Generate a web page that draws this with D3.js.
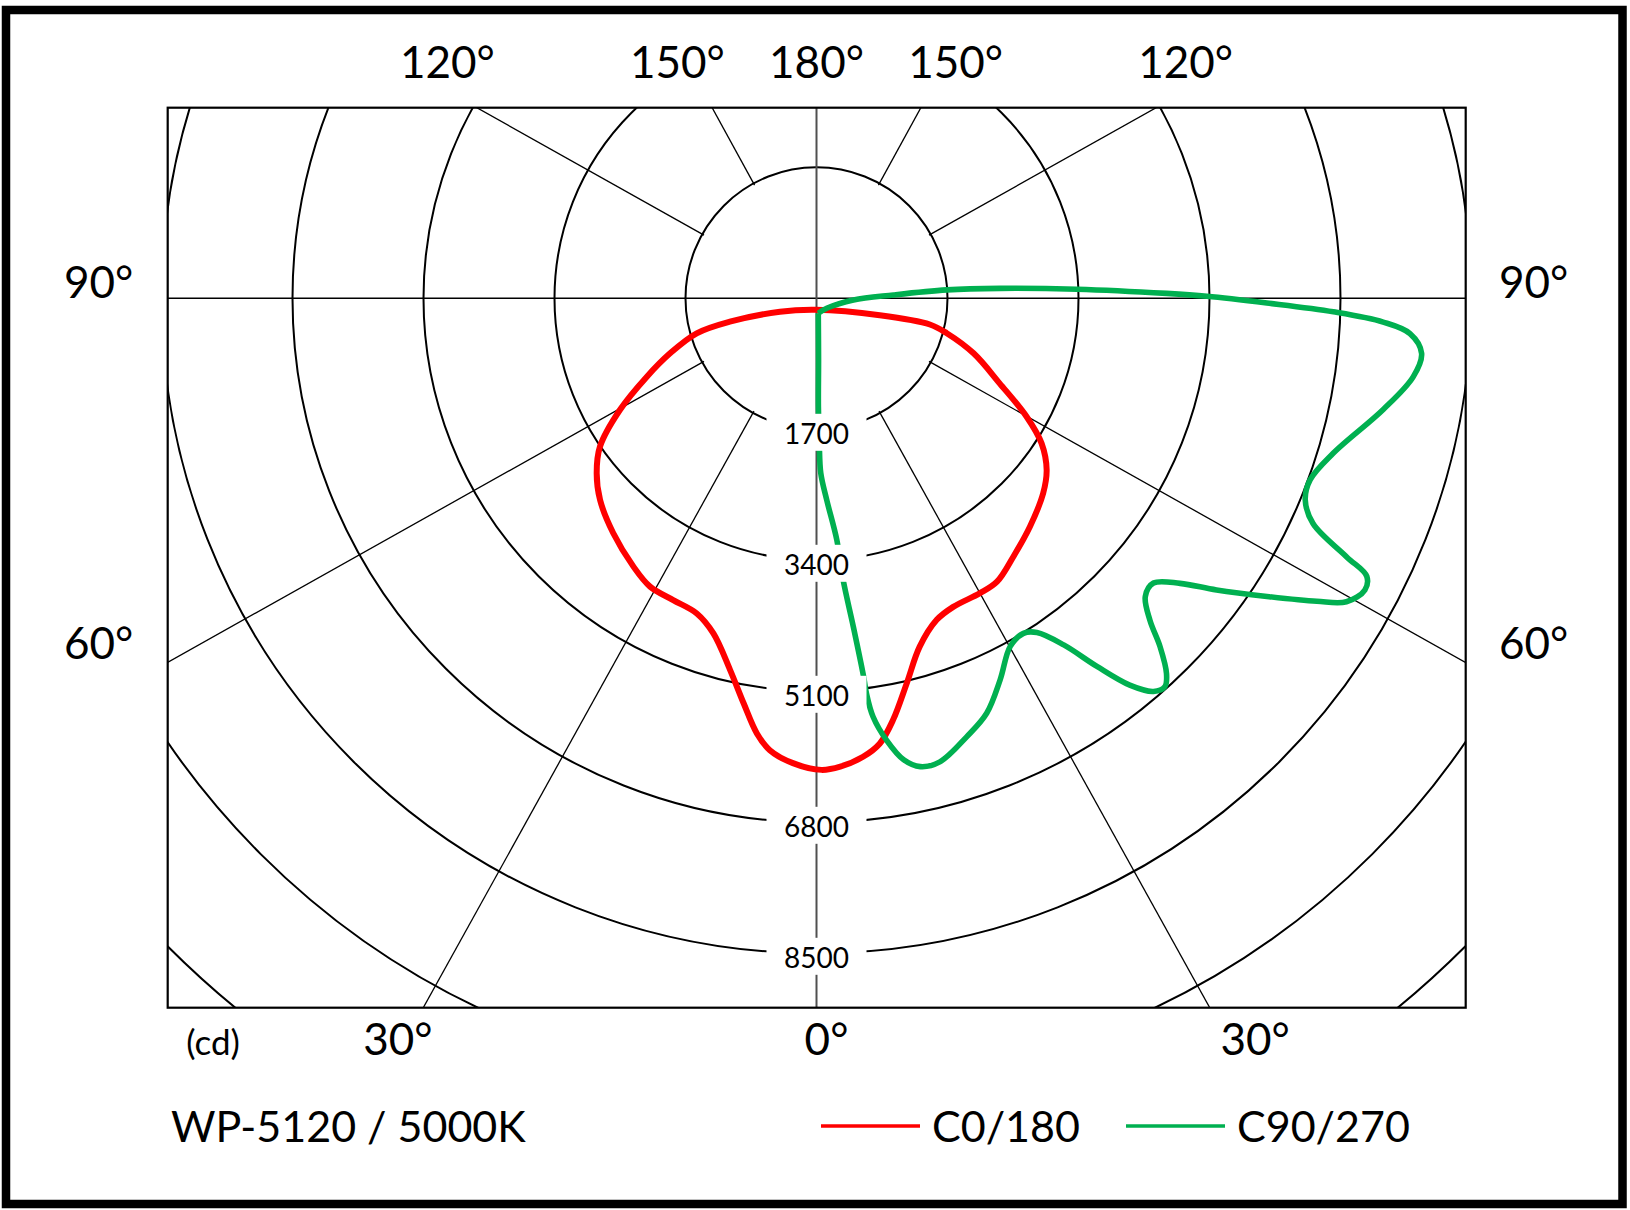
<!DOCTYPE html>
<html>
<head>
<meta charset="utf-8">
<script src="https://cdn.jsdelivr.net/npm/d3@7"></script>
<style>
  html, body { margin: 0; padding: 0; background: #fff; }
  svg { display: block; }
  text { font-family: Lato, "Open Sans", sans-serif; fill: #000; }
</style>
</head>
<body>
<div id="chart"></div>
<script>
// rings (cd)
const ringValues = [1700, 3400, 5100, 6800, 8500, 10200, 11900];
const ringLabels = ["1700", "3400", "5100", "6800", "8500"];

// gamma angles in degrees from nadir, positive = right half
// (the grid rays are drawn where the original draws them, a little off the nominal 30/60)
const rayAngles = [-151.3, -119.3, -60.7, -29, 29, 60.7, 119.3, 151.3];
const topTicks = [-120, -150, 180, 150, 120];
const sideTicks = [-90, -60, 90, 60];
const bottomTicks = [-30, 0, 30];

// C0/180 (right = C0, left = C180)
const redGamma = [-2, 75, 77, 75, 70.7, 65.1, 60.6, 57.2, 53.3, 49.3, 43.1, 37.3, 32.5, 29, 23.9,
  20.5, 16.5, 13.2, 10.3, 8.1, 5.8, 2.9, 0.6, -2.9, -5.9, -7.8, -10.2, -13.1, -17.1, -20.8,
  -25.4, -30, -34.3, -40.9, -47, -51.5, -55.6, -60.4, -65.2, -69.4, -73.7, -74.9, -69.8];
const redCd = [150, 850, 1510, 1750, 2160, 2620, 3130, 3475, 3725, 3880, 4055, 4215, 4360, 4375, 4380,
  4455, 4715, 5130, 5560, 5835, 5980, 6085, 6120, 6040, 5895, 5700, 5340, 4950, 4550, 4375,
  4335, 4320, 4215, 4030, 3840, 3645, 3405, 2935, 2425, 2030, 1620, 1165, 505];

// C90/270
const greenGamma = [6.8, 1.9, 1.0, 1.1, 1.4, 2.9, 4.8, 5.4, 6.4, 7.1, 7.2, 7.7, 9.0, 10.7, 12.5,
  14.9, 18.9, 22.3, 25.7, 29.1, 31.7, 33.4, 35.5, 37.3, 39.0, 40.6, 41.9, 43.0, 44.6, 46.0,
  47.8, 49.8, 51.9, 53.9, 56.5, 58.8, 60.2, 62.0, 63.2, 64.0, 65.6, 67.6, 69.8, 73.3, 78.9,
  82.5, 84.8, 86.6, 87.6, 88.5, 89.4, 90.3, 90.8, 92.0, 93.1, 93.7, 92.5, 87.4, 45.6, 6.8];
const greenCd = [195, 800, 1405, 1880, 2270, 2620, 3145, 3670, 4290, 4950, 5165, 5480, 5805, 6095, 6225,
  6225, 6015, 5820, 5495, 5170, 5110, 5195, 5525, 6005, 6460, 6720, 6770, 6660, 6350, 6015,
  5760, 5725, 5995, 6425, 7010, 7590, 7925, 8060, 8000, 7655, 7075, 6860, 6825, 7000, 7495,
  7810, 7885, 7715, 7360, 6710, 5845, 5065, 4545, 3380, 2385, 1695, 1000, 480, 185, 195];

const titleText = "WP-5120 / 5000K";
const seriesNames = ["C0/180", "C90/270"];
const seriesColors = ["#ff0000", "#00b050"];

const width = 1630, height = 1210;
const plot = { x0: 167.7, y0: 107.7, x1: 1465.7, y1: 1007.7 };
const cx = 816.5, cy = 298.3;

const r = d3.scaleLinear().domain([0, 1700]).range([0, 131]);
const rad = (g) => ((180 - g) * Math.PI) / 180;

const svg = d3
  .select("#chart")
  .append("svg")
  .attr("width", width)
  .attr("height", height);

// outer frame
svg
  .append("rect")
  .attr("x", 6)
  .attr("y", 10)
  .attr("width", 1616.5)
  .attr("height", 1194)
  .attr("fill", "#fff")
  .attr("stroke", "#000")
  .attr("stroke-width", 8.5);

svg
  .append("clipPath")
  .attr("id", "plotclip")
  .append("rect")
  .attr("x", plot.x0)
  .attr("y", plot.y0)
  .attr("width", plot.x1 - plot.x0)
  .attr("height", plot.y1 - plot.y0);

const grid = svg.append("g").attr("clip-path", "url(#plotclip)");
const g = grid.append("g").attr("transform", `translate(${cx}, ${cy})`);

g.selectAll("circle.ring")
  .data(ringValues)
  .join("circle")
  .attr("class", "ring")
  .attr("r", (d) => r(d))
  .attr("fill", "none")
  .attr("stroke", "#000")
  .attr("stroke-width", 2);

// radial lines start at the first ring
g.selectAll("line.ray")
  .data(rayAngles)
  .join("line")
  .attr("class", "ray")
  .attr("x1", (d) => d3.pointRadial(rad(d), r(ringValues[0]) - 2)[0])
  .attr("y1", (d) => d3.pointRadial(rad(d), r(ringValues[0]) - 2)[1])
  .attr("x2", (d) => d3.pointRadial(rad(d), r(20000))[0])
  .attr("y2", (d) => d3.pointRadial(rad(d), r(20000))[1])
  .attr("stroke", "#000")
  .attr("stroke-width", 1.3);

// 90° line and 0/180° line through the centre
grid
  .append("line")
  .attr("x1", plot.x0)
  .attr("x2", plot.x1)
  .attr("y1", cy)
  .attr("y2", cy)
  .attr("stroke", "#000")
  .attr("stroke-width", 1.6);
grid
  .append("line")
  .attr("x1", cx)
  .attr("x2", cx)
  .attr("y1", plot.y0)
  .attr("y2", plot.y1)
  .attr("stroke", "#505050")
  .attr("stroke-width", 2);

svg
  .append("rect")
  .attr("x", plot.x0)
  .attr("y", plot.y0)
  .attr("width", plot.x1 - plot.x0)
  .attr("height", plot.y1 - plot.y0)
  .attr("fill", "none")
  .attr("stroke", "#000")
  .attr("stroke-width", 2.2);

// curves
const line = d3.lineRadial().angle((d) => rad(d[0])).radius((d) => r(d[1]));
const curves = svg.append("g").attr("transform", `translate(${cx}, ${cy})`);

curves
  .append("path")
  .attr("d", line.curve(d3.curveCatmullRomClosed.alpha(0.5))(redGamma.map((a, i) => [a, redCd[i]])))
  .attr("fill", "none")
  .attr("stroke", seriesColors[0])
  .attr("stroke-width", 6)
  .attr("stroke-linejoin", "round");

curves
  .append("path")
  .attr("d", line.curve(d3.curveCatmullRom.alpha(0.5))(greenGamma.map((a, i) => [a, greenCd[i]])))
  .attr("fill", "none")
  .attr("stroke", seriesColors[1])
  .attr("stroke-width", 5.6)
  .attr("stroke-linejoin", "round");

// ring value labels sit on top of everything
const lab = curves
  .selectAll("g.rlabel")
  .data(ringLabels)
  .join("g")
  .attr("class", "rlabel")
  .attr("transform", (d) => `translate(0, ${r(+d) + 3})`);
lab
  .append("rect")
  .attr("x", -50)
  .attr("y", -18.5)
  .attr("width", 100)
  .attr("height", 37)
  .attr("fill", "#fff");
lab
  .append("text")
  .attr("text-anchor", "middle")
  .attr("dominant-baseline", "central")
  .attr("y", 1)
  .style("font-size", "28px")
  .text((d) => d);

// where a ray leaves the plot box
function exitPoint(a) {
  const [sx, sy] = d3.pointRadial(rad(a), 1);
  const ts = [];
  if (sx > 1e-9) ts.push((plot.x1 - cx) / sx);
  if (sx < -1e-9) ts.push((plot.x0 - cx) / sx);
  if (sy > 1e-9) ts.push((plot.y1 - cy) / sy);
  if (sy < -1e-9) ts.push((plot.y0 - cy) / sy);
  const t = d3.min(ts);
  return [cx + sx * t, cy + sy * t];
}
const deg = (a) => Math.abs(a) + "°";
const angleFont = "44px";

svg
  .selectAll("text.top")
  .data(topTicks)
  .join("text")
  .attr("class", "top")
  .attr("text-anchor", "middle")
  .attr("x", (d) => exitPoint(d)[0] + Math.sign(d === 180 ? 0 : d) * (Math.abs(d) === 120 ? 39 : 29))
  .attr("y", 78)
  .style("font-size", angleFont)
  .text(deg);

svg
  .selectAll("text.side")
  .data(sideTicks)
  .join("text")
  .attr("class", "side")
  .attr("text-anchor", "middle")
  .attr("x", (d) => (d < 0 ? plot.x0 - 69 : plot.x1 + 68))
  .attr("y", (d) => exitPoint(d)[1] + (Math.abs(d) === 90 ? 0 : -14))
  .style("font-size", angleFont)
  .text(deg);

const bottomNudge = { "-30": -9, "0": 10, "30": 29 };
svg
  .selectAll("text.bottom")
  .data(bottomTicks)
  .join("text")
  .attr("class", "bottom")
  .attr("text-anchor", "middle")
  .attr("x", (d) => exitPoint(d)[0] + bottomNudge[d])
  .attr("y", 1055)
  .style("font-size", angleFont)
  .text(deg);

svg
  .append("text")
  .attr("x", 213)
  .attr("y", 1055)
  .attr("text-anchor", "middle")
  .style("font-size", "35px")
  .text("(cd)");

// title and legend
svg
  .append("text")
  .attr("x", 171)
  .attr("y", 1142)
  .style("font-size", "43px")
  .text(titleText);

const legend = svg
  .selectAll("g.legend")
  .data(seriesNames)
  .join("g")
  .attr("class", "legend")
  .attr("transform", (d, i) => `translate(${821 + i * 305}, 1126)`);
legend
  .append("line")
  .attr("x1", 0)
  .attr("x2", 99)
  .attr("stroke", (d, i) => seriesColors[i])
  .attr("stroke-width", 3.5);
legend
  .append("text")
  .attr("x", 111)
  .attr("y", 16)
  .style("font-size", "43px")
  .text((d) => d);
</script>
</body>
</html>
